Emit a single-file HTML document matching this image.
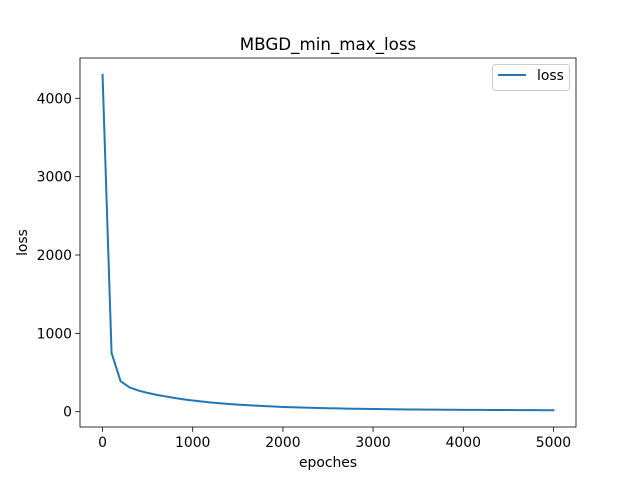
<!DOCTYPE html>
<html><head><meta charset="utf-8"><style>body{margin:0;background:#fff}svg{display:block;font-family:"DejaVu Sans","Liberation Sans",sans-serif}</style></head>
<body>
<svg id="chart" width="640" height="480" viewBox="0 0 640 480"></svg>
<script>
const epochs = [];
for (let i = 0; i <= 50; i++) epochs.push(i * 100);
const lossValues = [4300,750,390,310,270,240,215,195,175,158,143,130,118,108,99,91,84,77,71,66,61,57,53,50,47,44,42,40,38,36,34,33,31,30,29,28,27,26,25.5,25,24,23.5,23,22.5,22,21.5,21,20.5,20,19.5,19];
const xTicks = [0,1000,2000,3000,4000,5000];
const yTicks = [0,1000,2000,3000,4000];

const L=80,R=576,T=58,B=427;
const xmin=-250,xmax=5250;
const ymn=Math.min(...lossValues), ymx=Math.max(...lossValues), pad=(ymx-ymn)*0.05;
const ymin=ymn-pad, ymax=ymx+pad;
const sx=v=>L+(v-xmin)/(xmax-xmin)*(R-L);
const sy=v=>B-(v-ymin)/(ymax-ymin)*(B-T);
const svg=document.getElementById('chart');
const NS='http://www.w3.org/2000/svg';
function mk(tag,attrs,text){const e=document.createElementNS(NS,tag);for(const k in attrs)e.setAttribute(k,attrs[k]);if(text!==undefined)e.textContent=text;svg.appendChild(e);return e;}

let e;
e=mk('rect',{x:L,y:T,width:R-L,height:B-T,fill:'#fff',stroke:'#000','stroke-width':0.8});



xTicks.forEach(v=>{
  const x=sx(v);
  e=mk('line',{x1:x,x2:x,y1:B,y2:B+4.9,stroke:'#000','stroke-width':0.8});
  
  
  e=mk('text',{x:x,y:B+20,'font-size':13.9,'text-anchor':'middle'},String(v));
  
  
});
yTicks.forEach(v=>{
  const y=sy(v);
  e=mk('line',{x1:L-4.9,x2:L,y1:y,y2:y,stroke:'#000','stroke-width':0.8});
  
  
  e=mk('text',{x:L-8,y:y+5,'font-size':13.9,'text-anchor':'end'},String(v));
  
  
});

const pts=epochs.map((x,i)=>sx(x).toFixed(2)+','+sy(lossValues[i]).toFixed(2)).join(' ');
e=mk('polyline',{points:pts,fill:'none',stroke:'#1f77b4','stroke-width':2,'stroke-linejoin':'round','stroke-linecap':'square'});



e=mk('text',{x:(L+R)/2,y:50,'font-size':16.7,'text-anchor':'middle'},'MBGD_min_max_loss');


e=mk('text',{x:(L+R)/2,y:467,'font-size':13.9,'text-anchor':'middle'},'epoches');


e=mk('text',{x:27,y:(T+B)/2,'font-size':13.9,'text-anchor':'middle',transform:'rotate(-90 27 '+((T+B)/2)+')'},'loss');



e=mk('rect',{x:492.5,y:64.5,width:77,height:26,rx:3,fill:'#fff',stroke:'#ccc','stroke-width':1});


e=mk('line',{x1:498,x2:526,y1:75,y2:75,stroke:'#1f77b4','stroke-width':2});


e=mk('text',{x:537,y:80,'font-size':13.9},'loss');


</script>
</body></html>
